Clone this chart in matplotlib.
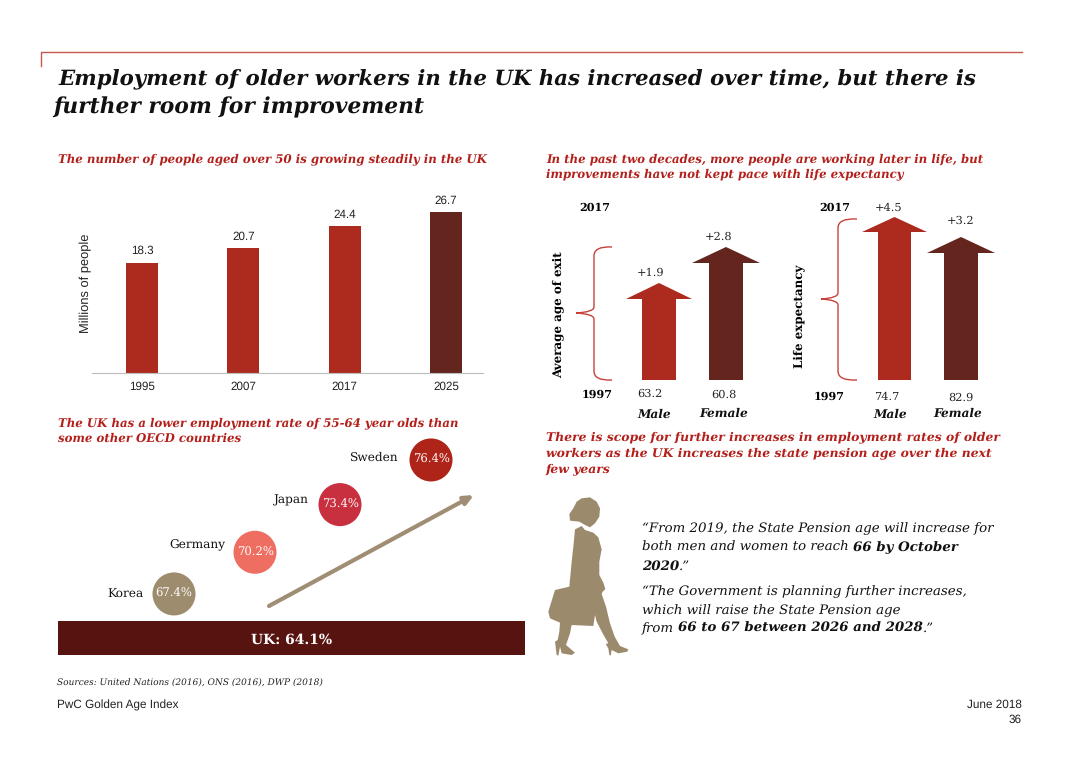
import matplotlib
matplotlib.use('Agg')
import matplotlib.pyplot as plt
from matplotlib.patches import PathPatch, Polygon, Rectangle
from matplotlib.path import Path

plt.rcParams['text.hinting'] = 'no_hinting'

W, H = 1080, 764
SERIF = 'DejaVu Serif'
SANS = 'Liberation Sans'

RED = '#ad2b1e'
DARK = '#63251e'
MAROON = '#57130f'
TAN = '#9e8c6e'
HEAD_RED = '#b3201b'

# population chart
pop_years = ['1995', '2007', '2017', '2025']
pop_values = [18.3, 20.7, 24.4, 26.7]

# oecd bubbles
countries = ['Korea', 'Germany', 'Japan', 'Sweden']
rates = [67.4, 70.2, 73.4, 76.4]
uk_rate = 64.1

# exit age and life expectancy
arrow_groups = ['Male', 'Female', 'Male', 'Female']
start_1997 = ['63.2', '60.8', '74.7', '82.9']
changes = ['+1.9', '+2.8', '+4.5', '+3.2']
arrow_lengths = [97, 133, 163, 143]

# layout, in pixels
bubble_x = [174, 255, 340, 431]
bubble_cols = [TAN, '#ee6e62', '#c8303f', '#af2418']
arrow_x = [659, 726, 894.5, 961]
arrow_cols = [RED, DARK, RED, DARK]
arrow_head_w = [33, 34, 32.5, 34]
arrow_shaft_w = [17, 17, 16.5, 17]
arrow_head_h = [16, 16, 15, 16]


def px_axes(x0, y0, x1, y1):
    return fig.add_axes([x0 / W, 1 - y1 / H, (x1 - x0) / W, (y1 - y0) / H])


fig = plt.figure(figsize=(W / 100, H / 100), dpi=100)

ov = px_axes(0, 0, W, H)
ov.set_xlim(0, W)
ov.set_ylim(H, 0)
ov.axis('off')


def txt(x, y, s, size=8, weight='normal', style='normal', color='black', ha='left', fam=SERIF, **kw):
    return ov.text(x, y, s, fontsize=size, fontweight=weight, fontstyle=style, color=color,
                   ha=ha, va='baseline', family=fam, **kw)


def runs(x, y, parts, size):
    # line of text with bold bits inside it
    r = fig.canvas.get_renderer()
    for s, weight in parts:
        t = txt(x, y, s, size=size, weight=weight, style='italic', color='#111111')
        x += t.get_window_extent(r).width


# header rule
ov.plot([41, 41, 1022], [66, 52, 52], color='#c8574c', lw=1)
TITLE = 15.3
txt(58, 85, 'Employment of older workers in the UK has increased over time, but there is', TITLE, 'bold', 'italic', '#111111')
txt(53, 113, 'further room for improvement', TITLE + 0.4, 'bold', 'italic', '#111111')

SUB = 8.5
txt(58, 162, 'The number of people aged over 50 is growing steadily in the UK', SUB, 'bold', 'italic', HEAD_RED)
txt(546, 162, 'In the past two decades, more people are working later in life, but', SUB, 'bold', 'italic', HEAD_RED)
txt(546, 177, 'improvements have not kept pace with life expectancy', SUB, 'bold', 'italic', HEAD_RED)
txt(58, 426, 'The UK has a lower employment rate of 55-64 year olds than', SUB, 'bold', 'italic', HEAD_RED)
txt(58, 442, 'some other OECD countries', SUB, 'bold', 'italic', HEAD_RED)
txt(546, 440, 'There is scope for further increases in employment rates of older', SUB + 0.4, 'bold', 'italic', HEAD_RED)
txt(546, 456, 'workers as the UK increases the state pension age over the next', SUB + 0.4, 'bold', 'italic', HEAD_RED)
txt(546, 472, 'few years', SUB + 0.4, 'bold', 'italic', HEAD_RED)

# bar chart
ax = px_axes(92, 190, 483, 373)
xs = range(len(pop_values))
ax.bar(xs, pop_values, width=0.316, color=[RED, RED, RED, DARK])
ax.set_xlim(-0.494, 3.366)
ax.set_ylim(0, 30.35)
ax.set_xticks(list(xs), pop_years, fontsize=8.4, family=SANS, color='#222222')
ax.tick_params(axis='x', length=0, pad=6)
ax.set_yticks([])
for s in ['top', 'left', 'right']:
    ax.spines[s].set_visible(False)
ax.spines['bottom'].set_color('#bdbdbd')
for x, v in zip(xs, pop_values):
    ax.annotate(f'{v}', (x, v), xytext=(0, 6), textcoords='offset points', ha='center',
                fontsize=8.4, family=SANS, color='#222222')
ax.patch.set_alpha(0)
txt(89, 283, 'Millions of people', 9.3, ha='center', fam=SANS, color='#222222', rotation=90,
    rotation_mode='anchor')

# bubbles
bx = px_axes(58, 440, 525, 620)
bx.set_xlim(58, 525)
bx.set_ylim(65.65, 77.74)
bx.axis('off')
bx.scatter(bubble_x, rates, s=960, c=bubble_cols, linewidths=0, zorder=2, clip_on=False)
label_dx = [-30, -30, -32, -32]
label_dy = [-3, 4, 1, -1]
for x, r, c, d, e in zip(bubble_x, rates, countries, label_dx, label_dy):
    bx.text(x, r, f'{r}%', color='white', fontsize=8.4, family=SERIF, ha='center', va='center', zorder=3)
    bx.annotate(c, (x, r), xytext=(d, e), textcoords='offset pixels', ha='right', va='baseline',
                fontsize=8.7, family=SERIF, color='#111111')
ov.add_patch(Rectangle((58, 621), 467, 34, color=MAROON, lw=0))
txt(291.5, 644, f'UK: {uk_rate}%', 10, 'bold', color='white', ha='center')
ov.annotate('', xy=(474, 495), xytext=(269, 606),
            arrowprops=dict(arrowstyle='-|>,head_width=0.25,head_length=0.55', color='#a08e74', lw=3,
                            shrinkA=0, shrinkB=0))

# arrows
base_y = 380
for x, n, c, hw, sw, hh in zip(arrow_x, arrow_lengths, arrow_cols, arrow_head_w, arrow_shaft_w, arrow_head_h):
    tip = base_y - n
    ov.add_patch(Polygon([(x - sw, base_y), (x - sw, tip + hh), (x - hw, tip + hh), (x, tip),
                          (x + hw, tip + hh), (x + sw, tip + hh), (x + sw, base_y)],
                         closed=True, color=c, lw=0))


def brace(x_end, x_spine, x_tip, y_top, y_mid, y_bot):
    c = 6
    verts = [(x_end, y_top), (x_spine, y_top - 1), (x_spine, y_top + c + 3),
             (x_spine, y_mid - c), (x_spine, y_mid - 1), (x_tip, y_mid),
             (x_spine, y_mid + 1), (x_spine, y_mid + c), (x_spine, y_bot - c - 3),
             (x_spine, y_bot + 1), (x_end, y_bot)]
    codes = [Path.MOVETO, Path.CURVE3, Path.CURVE3, Path.LINETO, Path.CURVE3, Path.CURVE3,
             Path.CURVE3, Path.CURVE3, Path.LINETO, Path.CURVE3, Path.CURVE3]
    ov.add_patch(PathPatch(Path(verts, codes), fc='none', ec='#c8413a', lw=1))


brace(612, 594, 576, 247, 313, 380)
brace(857, 838, 821, 219, 299, 380)

txt(595, 211, '2017', 8, 'bold', ha='center')
txt(835, 211, '2017', 8, 'bold', ha='center')
txt(597, 398, '1997', 8, 'bold', ha='center')
txt(829, 400, '1997', 8, 'bold', ha='center')
txt(561, 315, 'Average age of exit', 8.6, 'bold', ha='center', rotation=90, rotation_mode='anchor')
txt(802, 316, 'Life expectancy', 8.6, 'bold', ha='center', rotation=90, rotation_mode='anchor')

change_pos = [(651, 276), (719, 240), (889, 211), (961, 224)]
start_pos = [(650, 397), (724, 398), (887, 400), (961, 401)]
group_pos = [(654, 418), (724, 417), (890, 418), (958, 417)]
for s, p in zip(changes, change_pos):
    txt(p[0], p[1], s, 8.2, ha='center', color='#222222')
for s, p in zip(start_1997, start_pos):
    txt(p[0], p[1], s, 8.2, ha='center', color='#222222')
for s, p in zip(arrow_groups, group_pos):
    txt(p[0], p[1], s, 8.7, 'bold', 'italic', ha='center', color='#111111')

# quotes
fig.canvas.draw()
QS = 9.6
runs(642, 532, [('\u201cFrom 2019, the State Pension age will increase for', 'normal')], QS)
runs(642, 551, [('both men and women to reach ', 'normal'), ('66 by October', 'bold')], QS)
runs(642, 570, [('2020', 'bold'), ('.\u201d', 'normal')], QS)
runs(642, 595, [('\u201cThe Government is planning further increases,', 'normal')], QS)
runs(642, 614, [('which will raise the State Pension age', 'normal')], QS)
runs(642, 632, [('from ', 'normal'), ('66 to 67 between 2026 and 2028', 'bold'), ('.\u201d', 'normal')], QS)

# walking woman
hair = [(90, 92), (88, 72), (100, 55), (110, 35), (125, 25), (150, 22), (170, 35), (180, 55), (178, 80),
        (165, 100), (150, 112), (135, 105), (118, 95)]
body = [(105, 118), (125, 108), (135, 120), (160, 128), (175, 142), (185, 178), (178, 215), (178, 255),
        (190, 278), (196, 297), (188, 305), (185, 312), (198, 350), (210, 400), (224, 440), (240, 468),
        (265, 478), (262, 485), (235, 490), (215, 480), (212, 497), (208, 495), (205, 475), (197, 462),
        (205, 460), (188, 430), (170, 395), (165, 375), (160, 408), (95, 405), (90, 430), (78, 465),
        (105, 488), (95, 495), (65, 490), (60, 470), (55, 497), (50, 495), (45, 455), (53, 450),
        (58, 425), (60, 398), (30, 385), (25, 365), (45, 300), (88, 290), (95, 215), (100, 170)]
for shape in (hair, body):
    ov.add_patch(Polygon([(540 + a / 3, 490 + b / 3) for a, b in shape], closed=True, color='#9c8a6c', lw=0))

# footer
txt(57, 686, 'Sources: United Nations (2016), ONS (2016), DWP (2018)', 6.5, style='italic', color='#222222')
txt(57, 709, 'PwC Golden Age Index', 8.5, fam=SANS, color='#222222')
txt(1022, 708, 'June 2018', 8.5, ha='right', fam=SANS, color='#222222')
txt(1022, 723, '36', 8.5, ha='right', fam=SANS, color='#222222')

fig.savefig('out.png', dpi=100)
